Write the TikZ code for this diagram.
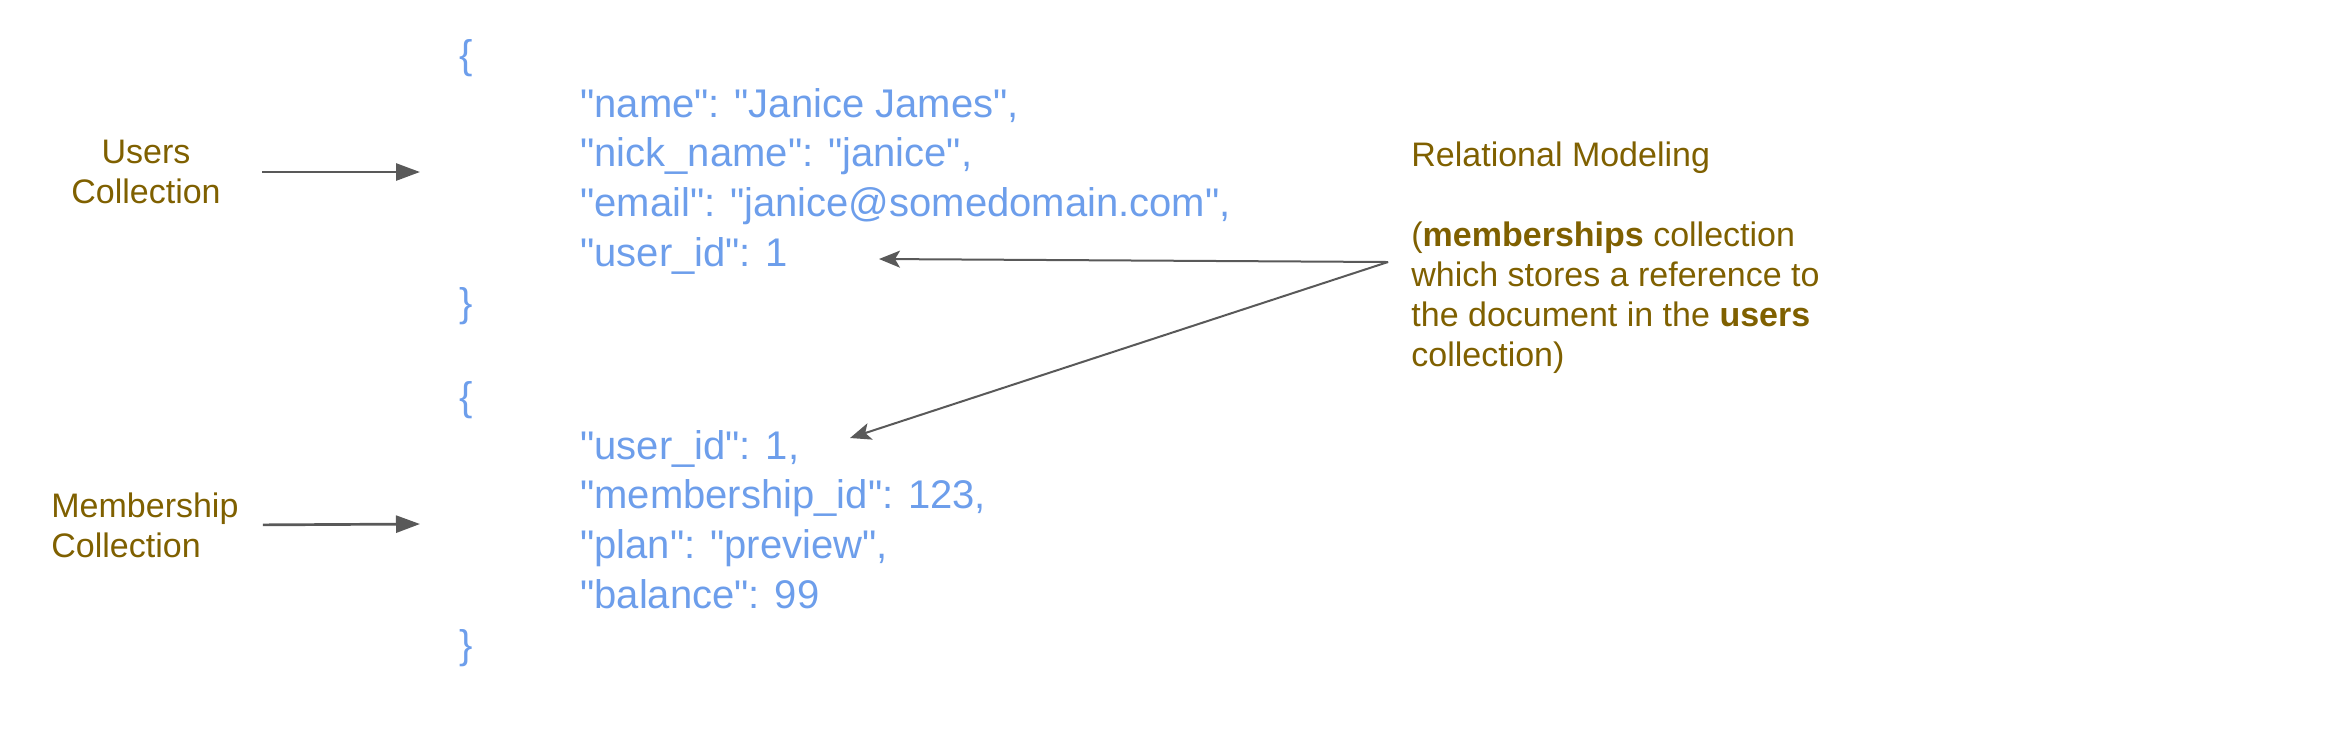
\documentclass[tikz,border=0pt]{standalone}
\usepackage{fontspec}
\setmainfont{Liberation Sans}
\newfontfamily\jsonfont{Liberation Sans}
\usetikzlibrary{positioning,arrows.meta}
\definecolor{jsonblue}{HTML}{6D9EEB}
\definecolor{notebrown}{HTML}{7F6000}
\definecolor{arrowgray}{HTML}{595959}

\begin{document}
\begin{tikzpicture}[x=0.5pt,y=-0.5pt,node distance=4.5pt and 0pt,
  json/.style={text=jsonblue,font=\jsonfont\fontsize{20}{24.5}\selectfont,anchor=west,inner sep=0pt,text height=15pt,text depth=5pt},
  colname/.style={text=notebrown,font=\fontsize{17}{20}\selectfont,inner sep=0pt},
  conn/.style={draw=arrowgray,line width=1.35pt,-{Triangle[length=12pt,width=8.5pt]}},
  refarrow/.style={draw=arrowgray,line width=1pt,-{Stealth[length=10.5pt,width=8.5pt,inset=2.5pt]}}]

\useasboundingbox (0,0) rectangle (2328,736);

% users document
\node[json](ob1) at (459,58){\{};
\node[json](name) at (580,107){"name": "Janice James",};
\node[json](nick)[below right=of name.south west]{"nick\_name": "janice",};
\node[json](email)[below right=of nick.south west]{"email": "janice@somedomain.com",};
\node[json](uid1)[below right=of email.south west]{"user\_id": 1};
\node[json](cb1)[below right=of uid1.south west,xshift=-60.5pt]{\}};

% membership document
\node[json](ob2) at (459,400){\{};
\node[json](uid2) at (580,449){"user\_id": 1,};
\node[json](mid)[below right=of uid2.south west]{"membership\_id": 123,};
\node[json](plan)[below right=of mid.south west]{"plan": "preview",};
\node[json](bal)[below right=of plan.south west]{"balance": 99};
\node[json](cb2)[below right=of bal.south west,xshift=-60.5pt]{\}};

% labels
\node[colname,align=center](users) at (146,172){Users\\Collection};
\node[colname,align=left,anchor=west](members) at (51,525){Membership\\Collection};
\node[colname,align=left,anchor=west](note) at (1411,258){Relational Modeling\\[20pt](\textbf{memberships} collection\\which stores a reference to\\the document in the \textbf{users}\\collection)};

\coordinate(utip) at (420,172);
\coordinate(mtip) at (420,524);
\coordinate(src) at ([xshift=-11.5pt,yshift=-2pt]note.west);
\coordinate(tip1) at (879,259);
\coordinate(tip2) at (850,438);

\path(users.east)edge[conn,shorten <=20.5pt](utip)
	(members.east)edge[conn,shorten <=12pt](mtip)
	(src)edge[refarrow](tip1)
	(src)edge[refarrow](tip2);

\end{tikzpicture}
\end{document}
